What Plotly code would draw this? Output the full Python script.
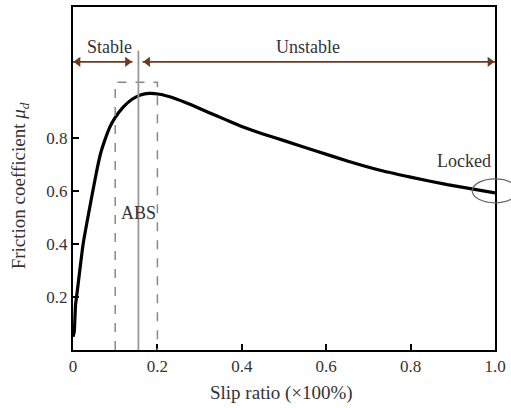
import plotly.graph_objects as go

slip = [0.0, 0.003, 0.006, 0.010, 0.024, 0.047, 0.058, 0.066, 0.075, 0.087, 0.099,
        0.12, 0.14, 0.16, 0.18, 0.205, 0.24, 0.28, 0.32, 0.36, 0.40, 0.45, 0.5,
        0.574, 0.65, 0.73, 0.8, 0.887, 1.0]
mu = [0.05, 0.07, 0.17, 0.22, 0.40, 0.60, 0.69, 0.745, 0.79, 0.84, 0.875,
      0.918, 0.946, 0.962, 0.968, 0.965, 0.95, 0.925, 0.897, 0.87, 0.843, 0.815, 0.79,
      0.752, 0.713, 0.677, 0.652, 0.624, 0.593]

x_ticks = [0, 0.2, 0.4, 0.6, 0.8, 1.0]
x_labels = ["0", "0.2", "0.4", "0.6", "0.8", "1.0"]
y_ticks = [0.2, 0.4, 0.6, 0.8]
y_labels = ["0.2", "0.4", "0.6", "0.8"]

abs_low, abs_high, abs_line = 0.1, 0.2, 0.155
arrow_y = 1.087
stable_start, stable_end = 0.0, 0.141
unstable_start, unstable_end = 0.165, 1.0

FONT = "Liberation Serif"
BROWN = "#6b3a1f"
TXT = "#333"

fig = go.Figure()
fig.add_trace(go.Scatter(x=slip, y=mu, mode="lines",
                         line=dict(color="black", width=3.2, shape="spline", smoothing=0.4),
                         showlegend=False, hoverinfo="skip"))

# range arrows: shafts as shapes, heads as markers
fig.add_trace(go.Scatter(
    x=[stable_start + 0.012, stable_end - 0.012, unstable_start + 0.012, unstable_end - 0.012],
    y=[arrow_y] * 4, mode="markers",
    marker=dict(symbol=["triangle-left", "triangle-right", "triangle-left", "triangle-right"],
                size=9, color=BROWN),
    showlegend=False, hoverinfo="skip", cliponaxis=False))

shapes = [
    dict(type="path", xref="x", yref="y",
         path=f"M{abs_low},0 L{abs_low},1.01 L{abs_high},1.01 L{abs_high},0",
         line=dict(color="#888", width=1.5, dash="dash")),
    dict(type="line", xref="x", yref="y", x0=abs_line, x1=abs_line, y0=0, y1=1.13,
         line=dict(color="#999", width=1.8)),
    dict(type="line", xref="x", yref="y", x0=stable_start, x1=stable_end, y0=arrow_y, y1=arrow_y,
         line=dict(color=BROWN, width=1.6)),
    dict(type="line", xref="x", yref="y", x0=unstable_start, x1=unstable_end, y0=arrow_y, y1=arrow_y,
         line=dict(color=BROWN, width=1.6)),
    dict(type="circle", xref="paper", yref="paper", x0=0.946, x1=1.054, y0=0.429, y1=0.499,
         line=dict(color="#666", width=1.2)),
]

annotations = [
    dict(x=(110 - 73) / 425, y=(350 - 45) / 266.7, xref="x", yref="y", text="Stable", showarrow=False,
         font=dict(family=FONT, size=18, color=TXT)),
    dict(x=(310 - 73) / 425, y=(350 - 45) / 266.7, xref="x", yref="y", text="Unstable", showarrow=False,
         font=dict(family=FONT, size=18, color=TXT)),
    dict(x=(139 - 73) / 425, y=(350 - 212) / 266.7, xref="x", yref="y", text="ABS", showarrow=False,
         font=dict(family=FONT, size=18, color=TXT)),
    dict(x=(467 - 73) / 425, y=(350 - 160) / 266.7, xref="x", yref="y", text="Locked", showarrow=False,
         font=dict(family=FONT, size=18, color=TXT)),
    dict(x=(283 - 73) / 425, y=(350 - 393) / 345, xref="paper", yref="paper",
         text="Slip ratio (×100%)", showarrow=False, yanchor="middle",
         font=dict(family=FONT, size=19, color=TXT)),
    dict(x=(20 - 73) / 425, y=(350 - 185) / 345, xref="paper", yref="paper",
         text="Friction coefficient <i>μ</i><sub><i>d</i></sub>", showarrow=False, textangle=-90,
         xanchor="center", yanchor="middle",
         font=dict(family=FONT, size=19, color=TXT)),
]

fig.update_layout(
    width=511, height=408,
    margin=dict(l=73, r=13, t=5, b=58),
    paper_bgcolor="white", plot_bgcolor="white",
    shapes=shapes, annotations=annotations,
    font=dict(family=FONT, size=17, color=TXT),
)
fig.update_xaxes(range=[0, 1.0], tickvals=x_ticks, ticktext=x_labels,
                 ticks="inside", ticklen=6, tickwidth=2, tickcolor="black",
                 showline=True, linewidth=2, linecolor="black", mirror=True,
                 showgrid=False, zeroline=False,
                 tickfont=dict(family=FONT, size=17, color=TXT))
fig.update_yaxes(range=[0, 1.294], tickvals=y_ticks, ticktext=y_labels,
                 ticks="inside", ticklen=6, tickwidth=2, tickcolor="black",
                 showline=True, linewidth=2, linecolor="black", mirror=True,
                 showgrid=False, zeroline=False,
                 tickfont=dict(family=FONT, size=17, color=TXT))

fig.write_html("out.html")
